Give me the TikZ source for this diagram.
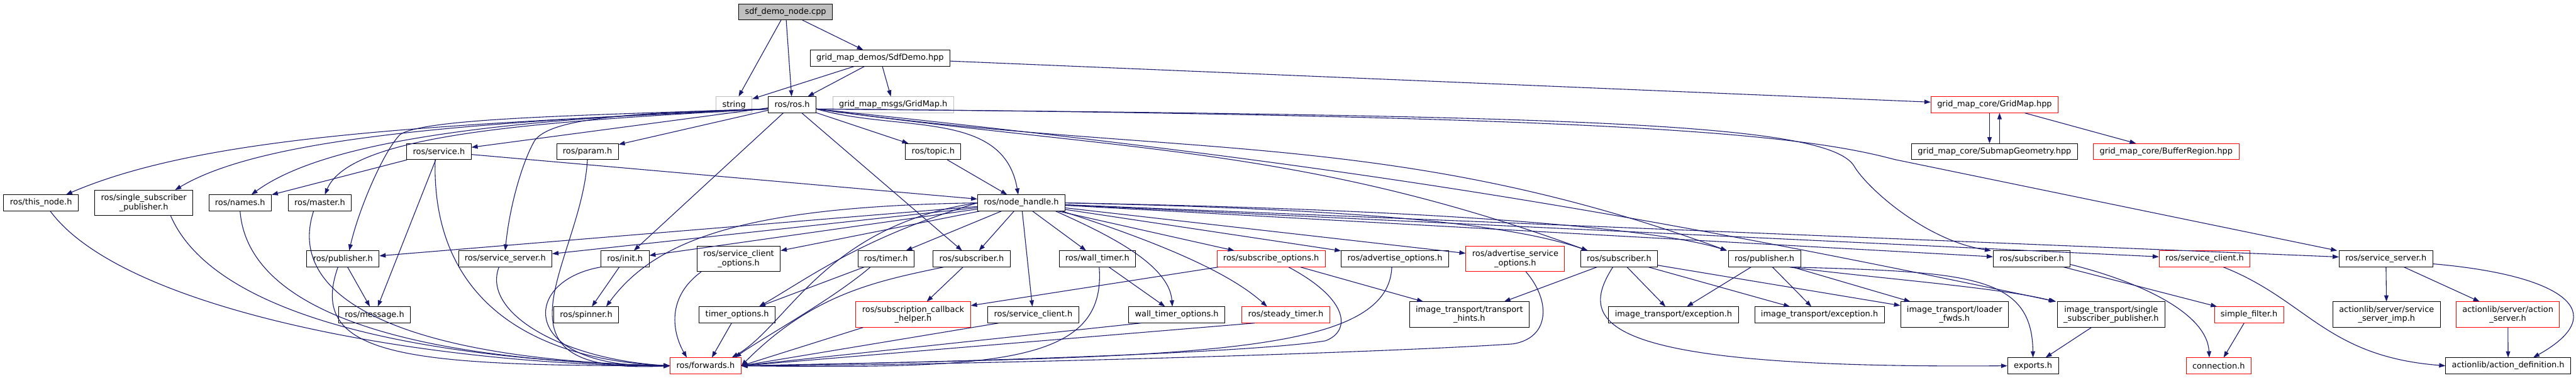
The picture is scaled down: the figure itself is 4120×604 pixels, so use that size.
\documentclass[tikz,border=0pt]{standalone}
\usepackage{fontspec}
\setmainfont{DejaVu Sans}
\usetikzlibrary{arrows.meta}
\definecolor{wire}{HTML}{191970}
\definecolor{cutred}{HTML}{FF0000}
\definecolor{pale}{HTML}{BFBFBF}
\tikzset{
  file/.style={draw=black, fill=white, line width=0.9pt, inner xsep=10pt, inner ysep=2pt,
               minimum height=25.5pt, font=\fontsize{13}{15}\selectfont, align=center},
  tall/.style={minimum height=40.5pt},
  root/.style={file, fill=pale},
  sys/.style={file, draw=pale},
  cut/.style={file, draw=cutred},
  inc/.style={-{Triangle[length=10pt,width=7pt]}, line width=1.1pt, color=wire},
}

\begin{document}
\begin{tikzpicture}[x=1pt, y=1pt]
\useasboundingbox (0,0) rectangle (4120,-604);

% --- TOP ---
\node[root] (sdf)     at (1256.5,-19)  {sdf\_demo\_node.cpp};
\node[file] (sdfdemo) at (1407.5,-93)  {grid\_map\_demos/SdfDemo.hpp};
\node[sys]  (string)  at (1174,-167.5) {string};
\node[file] (ros)     at (1267,-167.5) {ros/ros.h};
\node[sys]  (gmmsg)   at (1428.5,-167.5) {grid\_map\_msgs/GridMap.h};
\node[cut]  (gridmap) at (3190,-167.5) {grid\_map\_core/GridMap.hpp};
\node[file] (submap)  at (3190,-242.5) {grid\_map\_core/SubmapGeometry.hpp};
\node[cut]  (buffer)  at (3464.5,-242.5) {grid\_map\_core/BufferRegion.hpp};
\node[file] (service) at (702,-242.5)  {ros/service.h};
\node[file] (param)   at (939.5,-242.5) {ros/param.h};
\node[file] (topic)   at (1492.5,-242.5) {ros/topic.h};

% --- ROW 4 ---
\node[file] (nh)       at (1633.5,-324.5) {ros/node\_handle.h};
\node[file] (thisnode) at (65.5,-324.5)  {ros/this\_node.h};
\node[file, tall] (ssp) at (230,-324.5)  {ros/single\_subscriber\\\_publisher.h};
\node[file] (names)    at (384,-324.5)   {ros/names.h};
\node[file] (master)   at (511.5,-324.5) {ros/master.h};

% --- ROW 5 ---
\node[file] (pub)       at (548.5,-414)  {ros/publisher.h};
\node[file] (srvsrv)    at (808,-414)    {ros/service\_server.h};
\node[file] (init)      at (999.5,-414)  {ros/init.h};
\node[file, tall] (sco) at (1181.5,-414) {ros/service\_client\\\_options.h};
\node[file] (timer)     at (1417,-414)   {ros/timer.h};
\node[file] (sub)       at (1554,-414)   {ros/subscriber.h};
\node[file] (walltimer) at (1755,-414)   {ros/wall\_timer.h};
\node[cut]  (subopt)    at (2033,-414)   {ros/subscribe\_options.h};
\node[file] (advopt)    at (2231,-414)   {ros/advertise\_options.h};
\node[cut, tall] (advsrvopt) at (2423.5,-414) {ros/advertise\_service\\\_options.h};
\node[file] (itsub)     at (2589.5,-414) {ros/subscriber.h};
\node[file] (itpub)     at (2822,-414)   {ros/publisher.h};
\node[file] (msfsub)    at (3249.5,-414) {ros/subscriber.h};
\node[cut]  (srvcli2)   at (3526,-414)   {ros/service\_client.h};
\node[file] (srvsrv2)   at (3816,-414)   {ros/service\_server.h};

% --- ROW 6 ---
\node[file] (message)  at (599,-503.5)   {ros/message.h};
\node[file] (spinner)  at (937.5,-503.5) {ros/spinner.h};
\node[file] (timeropt) at (1179,-503.5)  {timer\_options.h};
\node[cut, tall] (scbh) at (1460.5,-503) {ros/subscription\_callback\\\_helper.h};
\node[file] (srvcli)   at (1652.5,-503.5) {ros/service\_client.h};
\node[file] (wto)      at (1882,-503.5)  {wall\_timer\_options.h};
\node[cut]  (steady)   at (2056.5,-503.5) {ros/steady\_timer.h};
\node[file, tall] (th) at (2350,-503)    {image\_transport/transport\\\_hints.h};
\node[file] (itexc1)   at (2676.5,-503.5) {image\_transport/exception.h};
\node[file] (itexc2)   at (2910,-503.5)  {image\_transport/exception.h};
\node[file, tall] (loader) at (3126,-503) {image\_transport/loader\\\_fwds.h};
\node[file, tall] (itssp)  at (3376.5,-503) {image\_transport/single\\\_subscriber\_publisher.h};
\node[cut]  (simple)   at (3597,-503.5)  {simple\_filter.h};
\node[file, tall] (ssimp)  at (3817,-503) {actionlib/server/service\\\_server\_imp.h};
\node[cut, tall]  (actsrv) at (4011,-503) {actionlib/server/action\\\_server.h};

% --- BOTTOM ---
\node[cut]  (fwd)        at (1128.5,-585) {ros/forwards.h};
\node[file] (exports)    at (3251.5,-585) {exports.h};
\node[cut]  (connection) at (3548.5,-585) {connection.h};
\node[file] (actdef)     at (4011.5,-585) {actionlib/action\_definition.h};

% --- top edges ---
\draw[inc] (sdf) -- (string);
\draw[inc] (sdf) -- (ros);
\draw[inc] (sdf) -- (sdfdemo);
\draw[inc] (sdfdemo) -- (string);
\draw[inc] (sdfdemo) -- (ros);
\draw[inc] (sdfdemo) -- (gmmsg);
\draw[inc] (sdfdemo) -- (gridmap);
\draw[inc] ([xshift=-8pt]gridmap.south) -- ([xshift=-8pt]submap.north);
\draw[inc] ([xshift=8pt]submap.north) -- ([xshift=8pt]gridmap.south);
\draw[inc] (gridmap) -- (buffer);

% --- ros/ros.h ---
\draw[inc] (ros) -- (service);
\draw[inc] (ros) -- (param);
\draw[inc] (ros) -- (topic);
\draw[inc] (ros.-10) .. controls (1440,-212) and (1605,-175) .. ([xshift=-5pt]nh.north);
\draw[inc] (ros) -- (init);
\draw[inc] (ros) -- (sub);
\draw[inc] (ros.190) .. controls (700,-200) and (330,-215) .. ([xshift=40pt]thisnode.north);
\draw[inc] (ros.190) .. controls (750,-195) and (420,-220) .. ([xshift=50pt]ssp.north);
\draw[inc] (ros.190) .. controls (800,-190) and (520,-225) .. ([xshift=18pt]names.north);
\draw[inc] (ros.190) .. controls (850,-195) and (560,-215) .. ([xshift=8pt]master.north);
\draw[inc] (ros.190) .. controls (900,-185) and (680,-190) .. (640,-215)
  .. controls (615,-240) and (575,-330) .. ([xshift=10pt]pub.north);
\draw[inc] (ros.190) .. controls (1000,-180) and (880,-190) .. (855,-225)
  .. controls (835,-260) and (815,-330) .. (srvsrv.north);
\draw[inc] (ros.-10) .. controls (2500,-185) and (2920,-195) .. (2965,-265)
  .. controls (2985,-300) and (3080,-385) .. ([xshift=-65pt]msfsub.north);
\draw[inc] (ros.-10) .. controls (2600,-185) and (2880,-215) .. (3030,-255)
  -- ([xshift=-78pt]srvsrv2.north);
\draw[inc] (ros.-10) .. controls (1791,-242) and (2079,-233) .. ([xshift=-50pt]itsub.north);
\draw[inc] (ros.-10) .. controls (1875,-254) and (2222,-204) .. ([xshift=-60pt]itpub.north);
\draw[inc] (ros.-10) .. controls (2082,-256) and (2525,-321) .. ([xshift=-88pt]itssp.north);
\draw[inc] (topic) -- (nh);

% --- ros/service.h, ros/param.h ---
\draw[inc] (service) -- (names);
\draw[inc] (service) -- (message);
\draw[inc] (service) -- (nh);
\draw[inc] ([xshift=-6pt]service.south) .. controls (690,-480) and (850,-575) .. (fwd.west);
\draw[inc] (param.south) .. controls (930,-420) and (760,-600) .. (fwd.west);

% --- ros/node_handle.h ---
\draw[inc] (nh) -- (timer);
\draw[inc] (nh) -- (sub);
\draw[inc] (nh) -- (srvcli);
\draw[inc] (nh) -- (walltimer);
\draw[inc] ([xshift=55pt]nh.south) .. controls (1760,-370) and (1870,-420) .. ([xshift=-7pt]wto.north);
\draw[inc] ([xshift=65pt]nh.south) .. controls (1830,-380) and (1960,-430) .. ([xshift=-30pt]steady.north);
\draw[inc] (nh) -- (subopt);
\draw[inc] (nh) -- (advopt);
\draw[inc] (nh) -- (advsrvopt);
\draw[inc] (nh.east) .. controls (2200,-335) and (2420,-360) .. ([xshift=-50pt]itsub.north);
\draw[inc] (nh.east) .. controls (2300,-335) and (2650,-365) .. ([xshift=-60pt]itpub.north);
\draw[inc] (nh) -- (msfsub);
\draw[inc] (nh) -- (srvcli2);
\draw[inc] (nh) -- (srvsrv2);
\draw[inc] (nh) -- (pub);
\draw[inc] (nh) -- (srvsrv);
\draw[inc] (nh) -- (init);
\draw[inc] (nh) -- (sco);
\draw[inc] (nh.west) .. controls (1200,-330) and (1050,-380) .. ([xshift=32pt]spinner.north);
\draw[inc] (nh.west) .. controls (1380,-380) and (1300,-440) .. ([xshift=35pt]timeropt.north);
\draw[inc] (nh.west) .. controls (1320,-360) and (1260,-520) .. ([xshift=-15pt]fwd.north east);

% --- into ros/forwards.h from the left ---
\draw[inc] ([xshift=15pt]thisnode.south) .. controls (200,-500) and (700,-585) .. (fwd.west);
\draw[inc] ([xshift=43pt]ssp.south) .. controls (340,-500) and (650,-575) .. (fwd.west);
\draw[inc] (names.south) .. controls (395,-480) and (600,-575) .. (fwd.west);
\draw[inc] ([xshift=-10pt]master.south) .. controls (455,-480) and (650,-575) .. (fwd.west);
\draw[inc] ([xshift=-8pt]pub.south) .. controls (490,-570) and (650,-585) .. (fwd.west);
\draw[inc] ([xshift=-10pt]srvsrv.south) .. controls (770,-500) and (900,-575) .. (fwd.west);
\draw[inc] (init.south west) .. controls (830,-450) and (830,-590) .. (fwd.west);
\draw[inc] ([xshift=-60pt]sco.south) .. controls (1060,-480) and (1080,-540) .. ([xshift=-30pt]fwd.north);
\draw[inc] ([xshift=-9pt]timeropt.south) -- ([xshift=10pt]fwd.north);

% --- into ros/forwards.h from the right ---
\draw[inc] ([xshift=-25pt]timer.south) .. controls (1330,-480) and (1220,-540) .. ([xshift=-10pt]fwd.north east);
\draw[inc] ([xshift=-45pt]sub.south) .. controls (1400,-450) and (1300,-470) .. (fwd.east);
\draw[inc] ([xshift=-80pt]scbh.south) -- (fwd.east);
\draw[inc] ([xshift=-55pt]srvcli.south) -- (fwd.east);
\draw[inc] ([xshift=3pt]walltimer.south) .. controls (1770,-580) and (1600,-590) .. (fwd.east);
\draw[inc] ([xshift=-57pt]wto.south) -- (fwd.east);
\draw[inc] ([xshift=-50pt]steady.south) -- (fwd.east);
\draw[inc] ([xshift=28pt]subopt.south) .. controls (2160,-480) and (2160,-530) .. (2120,-545)
  .. controls (2000,-565) and (1500,-580) .. (fwd.east);
\draw[inc] ([xshift=-5pt]advopt.south) .. controls (2220,-570) and (1900,-570) .. (fwd.east);
\draw[inc] ([xshift=17pt]advsrvopt.south) .. controls (2480,-480) and (2480,-540) .. (2420,-550)
  .. controls (2200,-565) and (1500,-585) .. (fwd.east);

% --- lower roscpp ---
\draw[inc] (pub) -- (message);
\draw[inc] (init) -- (spinner);
\draw[inc] (timer) -- (timeropt);
\draw[inc] (sub) -- (scbh);
\draw[inc] (walltimer) -- (wto);
\draw[inc] (subopt) -- (scbh);
\draw[inc] (subopt) -- (th);

% --- image_transport ---
\draw[inc] (itsub) -- (th);
\draw[inc] (itsub) -- (itexc1);
\draw[inc] (itsub) -- (itexc2);
\draw[inc] (itsub) -- (loader);
\draw[inc] ([xshift=-10pt]itsub.south) .. controls (2520,-520) and (2560,-590) .. (exports.west);
\draw[inc] (itpub) -- (itexc1);
\draw[inc] (itpub) -- (itexc2);
\draw[inc] (itpub) -- (loader);
\draw[inc] ([xshift=40pt]itpub.south) .. controls (3000,-445) and (3200,-460) .. ([xshift=-90pt]itssp.north);
\draw[inc] ([xshift=45pt]itpub.south) .. controls (3150,-435) and (3250,-440) .. (exports.north);
\draw[inc] (itssp) -- (exports);

% --- message_filters, actionlib ---
\draw[inc] (msfsub) -- (simple);
\draw[inc] ([yshift=-9pt]msfsub.east) .. controls (3420,-450) and (3530,-500) .. ([xshift=-15pt]connection.north);
\draw[inc] (simple) -- (connection);
\draw[inc] ([xshift=30pt]srvcli2.south) .. controls (3690,-480) and (3720,-570) .. (actdef.west);
\draw[inc] (srvsrv2) -- (ssimp);
\draw[inc] (srvsrv2) -- (actsrv);
\draw[inc] ([yshift=-8pt]srvsrv2.east) .. controls (4100,-440) and (4180,-500) .. ([xshift=40pt]actdef.north);
\draw[inc] (actsrv) -- (actdef);

\end{tikzpicture}
\end{document}
